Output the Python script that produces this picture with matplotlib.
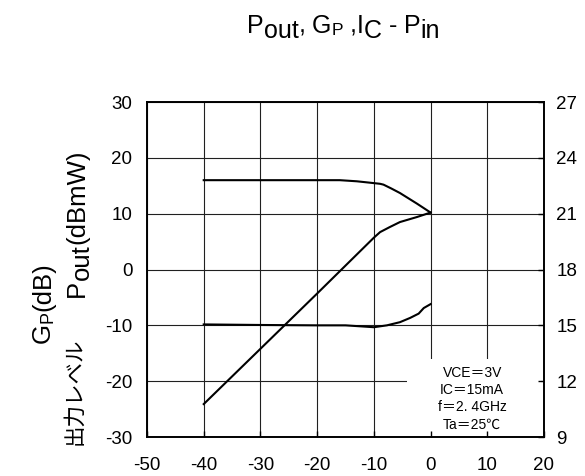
import matplotlib
matplotlib.use("Agg")
import matplotlib.pyplot as plt
from matplotlib.patches import Rectangle
from matplotlib.transforms import IdentityTransform

plt.rcParams["font.family"] = ["Liberation Sans", "Noto Sans CJK JP"]
plt.rcParams["axes.unicode_minus"] = False

# ── data (Pin in dBm) ─────────────────────────────────────────────────────────
gp_pin = [-40, -30, -20, -16, -13, -10.7, -8.9, -8.3, -6.9, -5.4, -2.4, 0]
gp_db  = [16.0, 16.0, 16.0, 16.0, 15.8, 15.55, 15.35, 15.2, 14.5, 13.7, 11.8, 10.2]

pout_pin = [-40, -30, -20, -10, -8.9, -7.2, -5.4, -2.4, 0]
pout_dbm = [-24.1, -14.2, -4.3, 5.7, 6.7, 7.6, 8.5, 9.4, 10.2]

ic_pin = [-40, -30, -20, -15, -10, -7.7, -5.4, -3.6, -2.1, -1.2, 0]
ic_ma  = [15.05, 15.02, 15.0, 15.0, 14.9, 15.0, 15.17, 15.4, 15.63, 15.93, 16.14]

x_ticks  = [-50, -40, -30, -20, -10, 0, 10, 20]
yl_ticks = [-30, -20, -10, 0, 10, 20, 30]
yr_ticks = [9, 12, 15, 18, 21, 24, 27]

cond_lines = ["VCE＝3V", "IC＝15mA", "f＝2. 4GHz", "Ta＝25℃"]


def rich_text(fig, x0, y0, pieces, size, rotation=0, center=False):
    """Place text runs one after another (pixel coords, origin bottom-left).
    pieces: (text, scale, drop_em, gap_after_em)."""
    r = fig.canvas.get_renderer()
    em = size * fig.dpi / 72
    arts = []
    for s, sc, drop, gap in pieces:
        t = fig.text(0, 0, s, fontsize=size * sc, rotation=rotation,
                     rotation_mode="anchor", ha="left", va="baseline",
                     transform=IdentityTransform())
        bb = t.get_window_extent(r)
        adv = bb.width if rotation == 0 else bb.height
        arts.append((t, drop * em, adv + gap * em))
    total = sum(a[2] for a in arts)
    pos = x0 - total / 2 if center else x0
    for t, drop, adv in arts:
        if rotation == 0:
            t.set_position((pos, y0 - drop))
        else:
            t.set_position((y0 + drop, pos))
        pos += adv


# ── plot ───────────────────────────────────────────────────────────────────────
fig = plt.figure(figsize=(5.85, 4.76), dpi=100)
ax = fig.add_axes([0.2513, 0.0819, 0.6786, 0.7038])

ax.set_xlim(-50, 20)
ax.set_ylim(-30, 30)
ax.set_xticks(x_ticks)
ax.set_yticks(yl_ticks)
ax.grid(True, color="#202020", linewidth=0.8)
ax.tick_params(axis="both", direction="in", length=0, labelsize=13.5)
ax.tick_params(axis="y", pad=10.5)
ax.tick_params(axis="x", pad=14.5)
for s in ax.spines.values():
    s.set_linewidth(1.2)

# white box behind the measurement conditions (hides grid there)
ax.add_patch(Rectangle((0.655, 0.004), 0.337, 0.229, transform=ax.transAxes,
                       facecolor="white", edgecolor="none", zorder=1.6))

ax.plot(gp_pin, gp_db, color="black", linewidth=1.5, zorder=3)
ax.plot(pout_pin, pout_dbm, color="black", linewidth=1.5, zorder=3)

ax2 = ax.twinx()
ax2.set_ylim(9, 27)
ax2.set_yticks(yr_ticks)
ax2.plot(ic_pin, ic_ma, color="black", linewidth=1.5, zorder=3)
ax2.tick_params(axis="y", direction="in", length=4, width=1, labelsize=13.5, pad=9)
ax2.xaxis.set_visible(True)
ax2.tick_params(axis="x", bottom=True, top=False, labelbottom=False,
                direction="in", length=4, width=1)
for s in ax2.spines.values():
    s.set_linewidth(1.2)

for i, line in enumerate(cond_lines):
    ax.text(0.819, 0.192 - i * 0.0516, line, transform=ax.transAxes,
            ha="center", va="center", fontsize=10, zorder=4)

# title and axis labels (subscripts placed by hand like the original)
rich_text(fig, 343.5, 443,
          [("P", 1, 0, 0), ("out", 1, 0.2, 0), (",", 1, 0, 0.278),
           ("G", 1, 0, 0), ("P", 0.7, 0.08, 0.278), (",", 1, 0, 0),
           ("I", 1, 0, 0), ("C", 1, 0.22, 0.278), ("-", 1, 0, 0.278),
           ("P", 1, 0, 0), ("in", 1, 0.2, 0)],
          18, center=True)
rich_text(fig, 133, 50,
          [("G", 1, 0, 0), ("P", 0.7, 0.08, 0), ("(dB)", 1, 0, 0)],
          18.5, rotation=90)
rich_text(fig, 179, 84,
          [("P", 1, 0, 0), ("out", 1, 0.2, 0), ("(dBmW)", 1, 0, 0)],
          18.5, rotation=90)
fig.text(0.1265, 0.065, "出力レベル", rotation=90, ha="center", va="bottom",
         fontsize=15.5, family=["Noto Sans CJK JP"])

fig.savefig("out.png", dpi=100)
